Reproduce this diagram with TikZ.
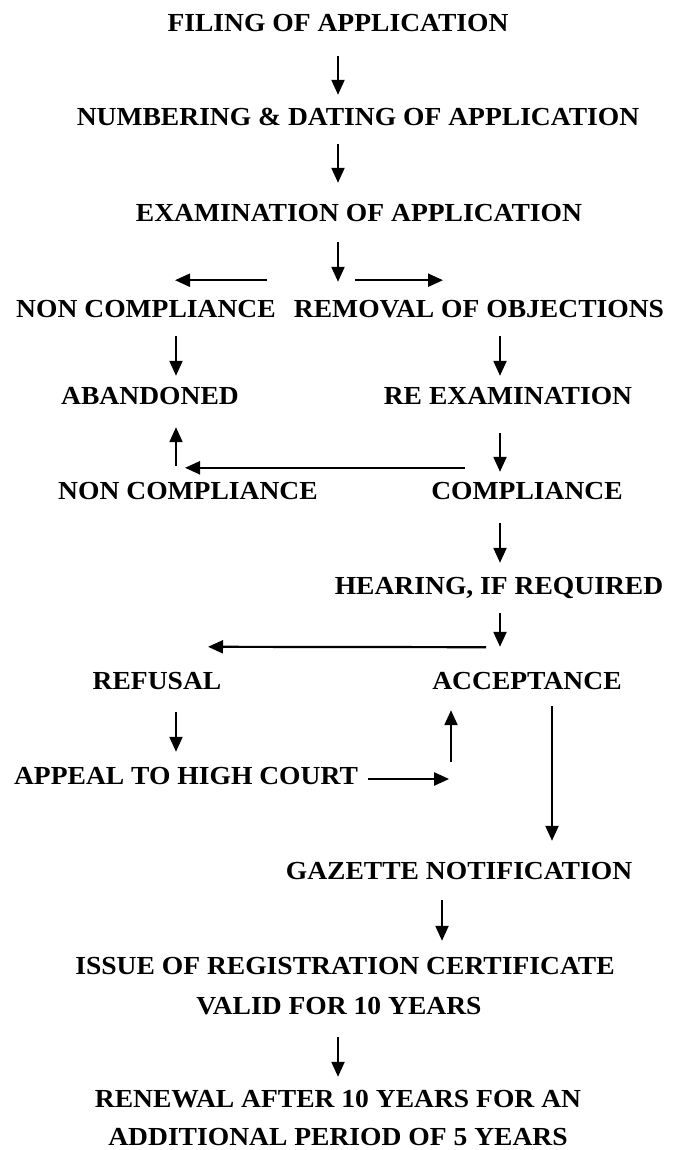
\documentclass[tikz,border=0pt]{standalone}
\usepackage{fontspec}
\usepackage{tikz}
\usetikzlibrary{arrows.meta,calc}
\newfontfamily\stagefont{Liberation Serif}[FakeStretch=1.06]

\begin{document}
\begin{tikzpicture}[x=1pt, y=-1pt,
    stage/.style={anchor=base, inner sep=0pt, text height=17pt, text depth=0pt,
      font=\stagefont\bfseries\fontsize{26}{30}\selectfont},
    flow/.style={-{Triangle[length=15pt,width=13pt]}, line width=2.2pt}]
  \useasboundingbox (0,0) rectangle (678,1150);

  % Columns for the arrows
  \coordinate (mid) at (338,0);
  \coordinate (lcol) at (176,0);
  \coordinate (rcol) at (500,0);
  \coordinate (acol) at (451,0);
  \coordinate (ecol) at (552,0);
  \coordinate (gcol) at (442,0);

  % Stages
  \node[stage] (filing) at (338,32) {FILING OF APPLICATION};
  \node[stage] (numbering) at (358,126) {NUMBERING \& DATING OF APPLICATION};
  \node[stage] (exam) at (359,222) {EXAMINATION OF APPLICATION};
  \node[stage] (noncomp) at (146,317) {NON COMPLIANCE};
  \node[stage] (removal) at (479,317) {REMOVAL OF OBJECTIONS};
  \node[stage] (abandoned) at (150,404) {ABANDONED};
  \node[stage] (reexam) at (508,404) {RE EXAMINATION};
  \node[stage] (noncomp2) at (188,499) {NON COMPLIANCE};
  \node[stage] (compliance) at (527,499) {COMPLIANCE};
  \node[stage] (hearing) at (499,594) {HEARING, IF REQUIRED};
  \node[stage] (refusal) at (157,689) {REFUSAL};
  \node[stage] (acceptance) at (527,689) {ACCEPTANCE};
  \node[stage] (appeal) at (186,784) {APPEAL TO HIGH COURT};
  \node[stage] (gazette) at (459,879) {GAZETTE NOTIFICATION};
  \node[stage] (issue) at (345,974) {ISSUE OF REGISTRATION CERTIFICATE};
  \node[stage] (valid) at (339,1014) {VALID FOR 10 YEARS};
  \node[stage] (renewal) at (338,1107) {RENEWAL AFTER 10 YEARS FOR AN};
  \node[stage] (additional) at (338,1145) {ADDITIONAL PERIOD OF 5 YEARS};

  % Main line
  \draw[flow, shorten <=24pt, shorten >=14pt] (filing.south -| mid) -- (numbering.north -| mid);
  \draw[flow, shorten <=18pt, shorten >=22pt] (numbering.south -| mid) -- (exam.north -| mid);
  \draw[flow, shorten <=20pt, shorten >=18pt] (exam.south -| mid) -- (noncomp.north -| mid);
  \draw[flow] ($(exam.south)+(-92,58)$) -- ++(-92,0);
  \draw[flow] ($(exam.south)+(-4,58)$) -- ++(88,0);

  % Objections
  \draw[flow, shorten <=19pt, shorten >=11pt] (noncomp.south -| lcol) -- (abandoned.north -| lcol);
  \draw[flow, shorten <=19pt, shorten >=11pt] (removal.south -| rcol) -- (reexam.north -| rcol);
  \draw[flow, shorten <=29pt, shorten >=10pt] (reexam.south -| rcol) -- (compliance.north -| rcol);
  \draw[flow, shorten <=16pt, shorten >=23pt] (noncomp2.north -| lcol) -- (abandoned.south -| lcol);
  \draw[flow] ($(compliance.north)+(-62,-14)$) -- ($(noncomp2.north)+(-3,-14)$);

  % Hearing and decision
  \draw[flow, shorten <=24pt, shorten >=14pt] (compliance.south -| rcol) -- (hearing.north -| rcol);
  \draw[flow, shorten <=19pt, shorten >=25pt] (hearing.south -| rcol) -- (acceptance.north -| rcol);
  \draw[flow] ($(hearing.south)+(-13,53)$) -- ($(refusal.north)+(51,-25)$);
  \draw[flow, shorten <=23pt, shorten >=15pt] (refusal.south -| lcol) -- (appeal.north -| lcol);
  \draw[flow] ($(appeal.east)+(10,3.5)$) -- ++(81,0);
  \draw[flow, shorten <=5pt, shorten >=21pt] (appeal.north -| acol) -- (acceptance.south -| acol);

  % Registration
  \draw[flow, shorten <=17pt, shorten >=21pt] (acceptance.south -| ecol) -- (gazette.north -| ecol);
  \draw[flow, shorten <=21pt, shorten >=16pt] (gazette.south -| gcol) -- (issue.north -| gcol);
  \draw[flow, shorten <=23pt, shorten >=13pt] (valid.south -| mid) -- (renewal.north -| mid);
\end{tikzpicture}
\end{document}
